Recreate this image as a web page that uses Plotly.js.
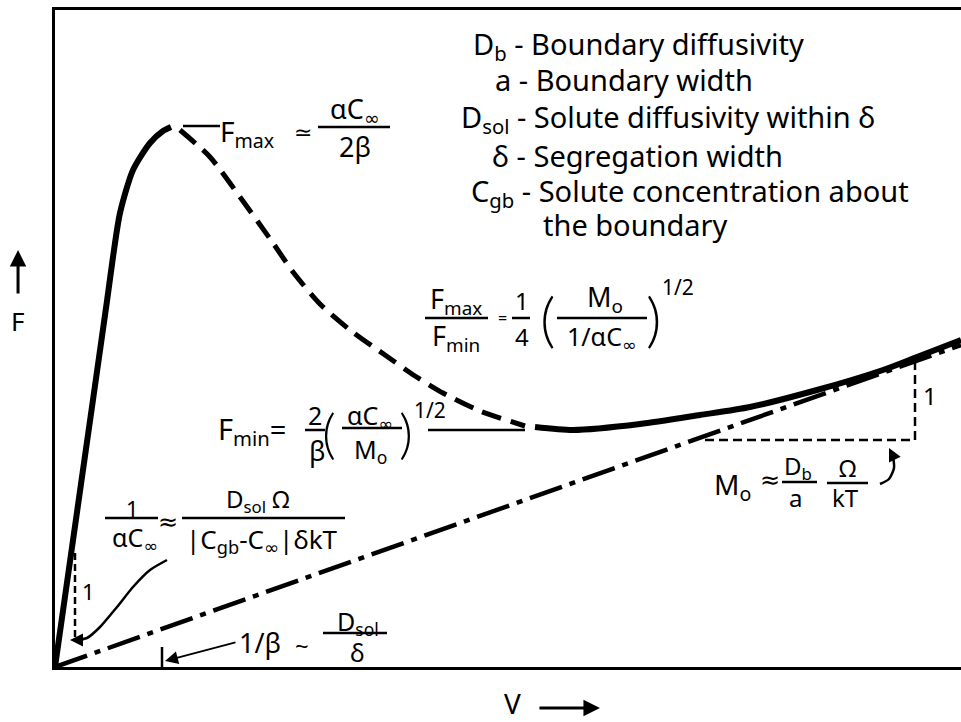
<!DOCTYPE html>
<html>
<head>
<meta charset="utf-8">
<script src="https://cdn.plot.ly/plotly-3.0.1.min.js"></script>
<style>
  html, body { margin: 0; padding: 0; background: #fff; }
  #chart { width: 961px; height: 722px; }
</style>
</head>
<body>
<div id="chart"></div>
<script>
// Drag force F on a moving grain boundary versus boundary velocity V (schematic units).

// low-velocity branch, solid up to F_max
const lowV = [0, 26, 52, 58, 65, 78, 95, 108, 116];
const lowF = [0, 183, 366, 410, 454, 497, 524, 536, 540];

// unstable branch between F_max and F_min, dashed
const midV = [125, 155, 185, 218, 238, 265, 295, 330, 360, 388, 425, 470];
const midF = [537, 510, 470, 424, 395, 363, 337, 312, 291, 274, 256, 241];

// high-velocity branch, solid from F_min
const highV = [480, 518, 585, 645, 695, 762, 828, 862, 906];
const highF = [240, 237, 243, 252, 260, 277, 297, 310, 327];

// free-boundary asymptote, slope 1/M_o
const asymV = [0, 906];
const asymF = [0, 322];

// slope triangle on the high-velocity branch
const triHiV = [650, 860, 860];
const triHiF = [227, 227, 309];

// slope triangle at the origin
const triLoV = [20, 20];
const triLoF = [30, 114];

// 1/beta marker on the V axis
const betaV = [107, 107];
const betaF = [0, 20];

// curved leader from the 1/(alpha C_inf) label
const leadLoV = [112, 95, 78, 62, 45, 32, 21];
const leadLoF = [107, 97, 80, 60, 40, 29, 27];

// curved leader from the M_o label
const leadHiV = [825, 834, 839, 838];
const leadHiF = [183, 188, 199, 211];

// glossary of symbols
const glossary = [
  'D<sub>b</sub> - Boundary diffusivity',
  'a - Boundary width',
  'D<sub>sol</sub> - Solute diffusivity within δ',
  'δ - Segregation width',
  'C<sub>gb</sub> - Solute concentration about',
  'the boundary'
];
const glossaryV = [418, 440, 406, 437, 416, 488];
const glossaryF = [622, 588, 549, 512, 475, 443];

const FONT = '"Noto Sans", "DejaVu Sans", sans-serif';
const THIN = 'Lato, "Noto Sans", sans-serif';
const INK = '#000';

function line(x, y, width, dash, shape) {
  return {
    x: x, y: y, type: 'scatter', mode: 'lines', hoverinfo: 'skip',
    line: {color: INK, width: width, dash: dash || 'solid', shape: shape || 'linear', smoothing: 0.7}
  };
}

function label(x, y, text, size, xanchor) {
  return {
    x: x, y: y, xref: 'x', yref: 'y', text: text, showarrow: false,
    xanchor: xanchor || 'center', yanchor: 'middle', borderpad: 0, borderwidth: 0,
    font: {family: FONT, size: size || 26, color: INK}
  };
}

function paren(x, y, text, size) {
  const a = label(x, y, text, size);
  a.font = {family: THIN, size: size, color: INK, weight: 300};
  return a;
}

function bar(x0, x1, y, w) {
  return {type: 'line', xref: 'x', yref: 'y', x0: x0, x1: x1, y0: y, y1: y,
          line: {color: INK, width: w || 2.5}};
}

function head(x, y, ax, ay, size) {
  return {
    x: x, y: y, ax: ax, ay: ay, xref: 'x', yref: 'y', axref: 'x', ayref: 'y',
    text: '', showarrow: true, arrowhead: 2, arrowsize: size || 1.2,
    arrowwidth: 2, arrowcolor: INK
  };
}

const traces = [
  line(asymV, asymF, 4.5, '34px,8px,6px,8px'),
  line(lowV, lowF, 6, 'solid', 'spline'),
  line(midV, midF, 5, '20px,10px', 'spline'),
  line(highV, highF, 6, 'solid', 'spline'),
  line(triHiV, triHiF, 2.5, '9px,5px'),
  line(triLoV, triLoF, 2.5, '7px,4px'),
  line(betaV, betaF, 2.5),
  line(leadLoV, leadLoF, 2.5, 'solid', 'spline'),
  line(leadHiV, leadHiF, 2.5, 'solid', 'spline')
];

const annotations = [];
glossary.forEach(function (t, i) {
  annotations.push(label(glossaryV[i], glossaryF[i], t, 29, 'left'));
});

// F_max
annotations.push(
  label(165, 534, 'F<sub>max</sub>', 28, 'left'),
  label(248, 536, '≃', 22),
  label(300, 557, 'αC<sub>∞</sub>', 27),
  label(300, 521, '2β', 27)
);

// F_max / F_min ratio
annotations.push(
  label(401, 367, 'F<sub>max</sub>', 27),
  label(401, 330, 'F<sub>min</sub>', 27),
  label(447, 349, '=', 16),
  label(467, 367, '1', 24),
  label(467, 331, '4', 24),
  paren(492, 349, '(', 60),
  label(550, 369, 'M<sub>o</sub>', 27),
  label(547, 330, '1/αC<sub>∞</sub>', 25),
  paren(598, 349, ')', 60),
  label(623, 380, '1/2', 21)
);

// F_min
annotations.push(
  label(163, 237, 'F<sub>min</sub>=', 29, 'left'),
  label(260, 252, '2', 25),
  label(262, 217, 'β', 27),
  paren(274, 235, '(', 54),
  label(315, 251, 'αC<sub>∞</sub>', 25),
  label(315, 217, 'M<sub>o</sub>', 25),
  paren(351, 235, ')', 54),
  label(375, 257, '1/2', 21)
);

// 1/(alpha C_inf)
annotations.push(
  label(77, 159, '1', 22),
  label(80, 129, 'αC<sub>∞</sub>', 25),
  label(113, 147, '≈', 24),
  label(203, 167, 'D<sub>sol</sub> Ω', 24),
  label(207, 127, '|C<sub>gb</sub>-C<sub>∞</sub>|δkT', 26),
  label(33, 76, '1', 22),
  head(15, 27, 22, 27, 1.3)
);

// 1/beta
annotations.push(
  label(205, 25, '1/β', 27),
  label(247, 22, '~', 24),
  label(303, 45, 'D<sub>sol</sub>', 25),
  label(302, 15, 'δ', 25),
  head(110, 6, 182, 25, 1.3)
);

// M_o
annotations.push(
  label(875, 272, '1', 24),
  label(677, 181, 'M<sub>o</sub>', 28),
  label(715, 189, '≈', 24),
  label(743, 200, 'D<sub>b</sub>', 24),
  label(740, 170, 'a', 24),
  label(792, 200, 'Ω', 24),
  label(790, 170, 'kT', 24),
  head(834, 219, 838, 211, 1.3)
);

// axis labels with arrows
annotations.push(
  {xref: 'paper', yref: 'paper', x: -0.0408, y: 0.5266, text: 'F', showarrow: false,
   xanchor: 'center', yanchor: 'middle', font: {family: FONT, size: 26, color: INK}},
  {xref: 'paper', yref: 'paper', x: -0.0408, y: 0.6347, ax: 0, ay: 45, text: '',
   showarrow: true, arrowhead: 2, arrowsize: 1.1, arrowwidth: 3, arrowcolor: INK},
  {xref: 'paper', yref: 'paper', x: 0.505, y: -0.055, text: 'V', showarrow: false,
   xanchor: 'center', yanchor: 'middle', font: {family: FONT, size: 28, color: INK}},
  {xref: 'paper', yref: 'paper', x: 0.6015, y: -0.0624, ax: -62, ay: 0, text: '',
   showarrow: true, arrowhead: 2, arrowsize: 1.1, arrowwidth: 3, arrowcolor: INK}
);

const shapes = [
  bar(128, 165, 541, 2.5),      // F_max leader
  bar(263, 335, 540),           // alpha C / 2 beta
  bar(370, 433, 349),           // F_max / F_min
  bar(457, 475, 349),           // 1/4
  bar(502, 592, 349),           // M_o / (1/alpha C)
  bar(250, 270, 237),           // 2 / beta
  bar(287, 347, 239),           // alpha C / M_o
  bar(373, 470, 237, 2.5),      // F_min leader
  bar(50, 103, 149),            // 1 / alpha C
  bar(127, 290, 149),           // D_sol Omega / ...
  bar(268, 332, 34),            // D_sol / delta
  bar(727, 762, 185),           // D_b / a
  bar(772, 813, 184)            // Omega / kT
];

const layout = {
  width: 961, height: 722, autosize: false,
  margin: {l: 55, r: 0, t: 10, b: 55, pad: 0},
  paper_bgcolor: '#fff', plot_bgcolor: '#fff',
  showlegend: false,
  xaxis: {range: [0, 906], showline: true, mirror: true, linewidth: 3, linecolor: INK,
          showgrid: false, zeroline: false, showticklabels: false, ticks: '', fixedrange: true},
  yaxis: {range: [0, 657], showline: true, mirror: false, linewidth: 3, linecolor: INK,
          showgrid: false, zeroline: false, showticklabels: false, ticks: '', fixedrange: true},
  annotations: annotations,
  shapes: shapes
};

Plotly.newPlot('chart', traces, layout, {displayModeBar: false, staticPlot: true});
</script>
</body>
</html>
